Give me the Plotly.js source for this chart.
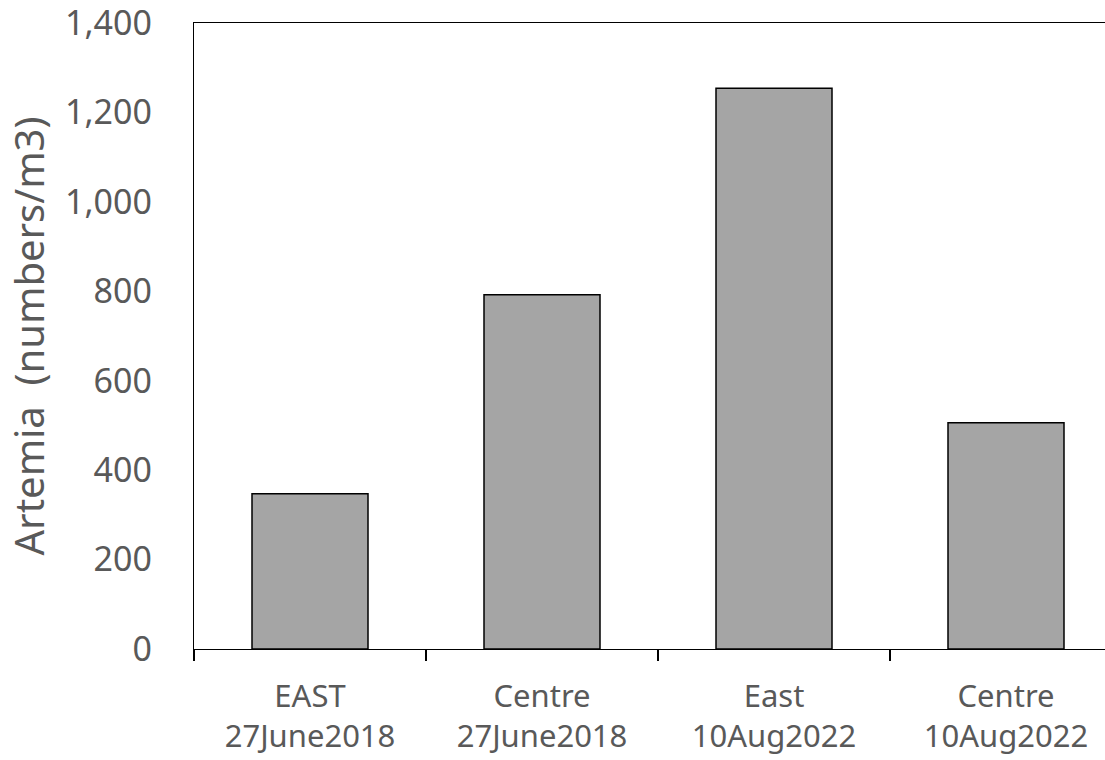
<!DOCTYPE html>
<html>
<head>
<meta charset="utf-8">
<script src="https://cdn.plot.ly/plotly-3.0.1.min.js"></script>
<style>
html, body { margin: 0; padding: 0; overflow: hidden; background: #fff; }
#chart { width: 1125px; height: 760px; }
</style>
</head>
<body>
<div id="chart"></div>
<script>
const categories = ["EAST<br>27June2018", "Centre<br>27June2018", "East<br>10Aug2022", "Centre<br>10Aug2022"];
const artemia = [347, 792, 1254, 506];
const yTickValues = [0, 200, 400, 600, 800, 1000, 1200, 1400];

const trace = {
  type: "bar",
  x: categories,
  y: artemia,
  marker: { color: "#a5a5a5", line: { color: "#000000", width: 1.5 } },
  hoverinfo: "x+y"
};

const layout = {
  width: 1125,
  height: 760,
  margin: { l: 194, r: 3, t: 23, b: 111 },
  paper_bgcolor: "#ffffff",
  plot_bgcolor: "#ffffff",
  bargap: 0.5,
  showlegend: false,
  font: { family: "Noto Sans, Open Sans, sans-serif", color: "#595959" },
  xaxis: {
    type: "category",
    showline: true,
    linecolor: "#000000",
    linewidth: 1.3,
    mirror: true,
    showgrid: false,
    ticks: "outside",
    tickson: "boundaries",
    ticklen: 11,
    tickcolor: "#000000",
    tickwidth: 1.3,
    ticklabelstandoff: 19,
    tickfont: { size: 31, color: "#595959" },
    automargin: false
  },
  yaxis: {
    range: [0, 1400],
    tickvals: yTickValues,
    tickformat: ",",
    showline: true,
    linecolor: "#000000",
    linewidth: 1.3,
    mirror: true,
    showgrid: false,
    zeroline: false,
    ticks: "",
    ticklabelstandoff: 34,
    ticklabeloverflow: "allow",
    tickfont: { size: 34, color: "#595959" },
    title: { text: "Artemia  (numbers/m3)", font: { size: 40, color: "#595959" }, standoff: 8 },
    automargin: false
  }
};

Plotly.newPlot("chart", [trace], layout, { displayModeBar: false, staticPlot: true });
</script>
</body>
</html>
